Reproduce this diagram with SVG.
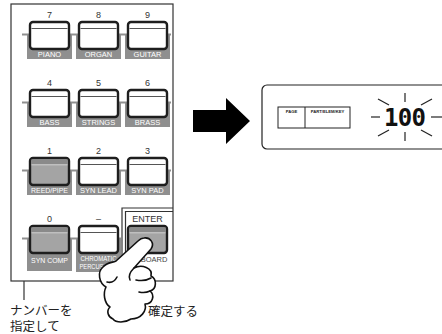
<svg xmlns="http://www.w3.org/2000/svg" width="442" height="334" viewBox="0 0 442 334">
  <defs>
    <style>
      .num { font-family: "Liberation Sans", Arial, sans-serif; font-size: 9px; fill: #333; text-anchor: middle; }
      .lbl { font-family: "Liberation Sans", Arial, sans-serif; font-size: 7.5px; fill: #fff; text-anchor: middle; }
      .sm { font-size: 6.8px; }
      .bed { fill: #8f8f8f; }
      .key { fill: #fff; stroke: #1e1e1e; stroke-width: 2.4; }
      .key-on { fill: #a4a4a4; stroke: #1e1e1e; stroke-width: 2.4; }
      .stripe { stroke: #555; stroke-width: 1.2; }
      .frame { fill: none; stroke: #333; stroke-width: 1.2; }
      .jp { font-family: "Liberation Sans", "Noto Sans CJK JP", sans-serif; font-size: 12.5px; fill: #222; }
      .ray { stroke: #222; stroke-width: 1.2; }
      .tiny { font-family: "Liberation Sans", Arial, sans-serif; font-size: 4.2px; font-weight: bold; fill: #222; text-anchor: middle; }
    </style>
  </defs>

  <!-- front panel frame -->
  <g id="panel">
    <rect class="frame" x="11" y="4" width="162" height="277"/>
    <line x1="24" y1="281" x2="24" y2="300" stroke="#333" stroke-width="1.2"/>
    <!-- ENTER enclosure, double line on left and top -->
    <path class="frame" d="M122,281 V208 H173"/>
    <path class="frame" d="M125.5,281 V211.5 H173"/>
  </g>

  <!-- rails under each key row -->
  <g id="rails" fill="#8f8f8f">
    <rect x="22" y="33.5" width="149" height="2"/>
    <rect x="22" y="101.5" width="149" height="2"/>
    <rect x="22" y="169.5" width="149" height="2"/>
    <rect x="22" y="237.5" width="99" height="2"/>
  </g>

  <!-- row 7 8 9 -->
  <g id="key-7">
    <text class="num" x="49.5" y="18">7</text>
    <rect class="bed" x="27" y="34" width="45" height="25"/>
    <rect class="key" x="30" y="22" width="39" height="27" rx="3"/>
    <line class="stripe" x1="31.5" y1="28.5" x2="67.5" y2="28.5"/>
    <text class="lbl" x="49.5" y="57">PIANO</text>
  </g>
  <g id="key-8">
    <text class="num" x="98.5" y="18">8</text>
    <rect class="bed" x="76" y="34" width="45" height="25"/>
    <rect class="key" x="79" y="22" width="39" height="27" rx="3"/>
    <line class="stripe" x1="80.5" y1="28.5" x2="116.5" y2="28.5"/>
    <text class="lbl" x="98.5" y="57">ORGAN</text>
  </g>
  <g id="key-9">
    <text class="num" x="147.5" y="18">9</text>
    <rect class="bed" x="125" y="34" width="45" height="25"/>
    <rect class="key" x="128" y="22" width="39" height="27" rx="3"/>
    <line class="stripe" x1="129.5" y1="28.5" x2="165.5" y2="28.5"/>
    <text class="lbl" x="147.5" y="57">GUITAR</text>
  </g>

  <!-- row 4 5 6 -->
  <g id="key-4">
    <text class="num" x="49.5" y="86">4</text>
    <rect class="bed" x="27" y="102" width="45" height="25"/>
    <rect class="key" x="30" y="90" width="39" height="27" rx="3"/>
    <line class="stripe" x1="31.5" y1="96.5" x2="67.5" y2="96.5"/>
    <text class="lbl" x="49.5" y="125">BASS</text>
  </g>
  <g id="key-5">
    <text class="num" x="98.5" y="86">5</text>
    <rect class="bed" x="76" y="102" width="45" height="25"/>
    <rect class="key" x="79" y="90" width="39" height="27" rx="3"/>
    <line class="stripe" x1="80.5" y1="96.5" x2="116.5" y2="96.5"/>
    <text class="lbl" x="98.5" y="125">STRINGS</text>
  </g>
  <g id="key-6">
    <text class="num" x="147.5" y="86">6</text>
    <rect class="bed" x="125" y="102" width="45" height="25"/>
    <rect class="key" x="128" y="90" width="39" height="27" rx="3"/>
    <line class="stripe" x1="129.5" y1="96.5" x2="165.5" y2="96.5"/>
    <text class="lbl" x="147.5" y="125">BRASS</text>
  </g>

  <!-- row 1 2 3 -->
  <g id="key-1">
    <text class="num" x="49.5" y="154">1</text>
    <rect class="bed" x="27" y="170" width="45" height="25"/>
    <rect class="key-on" x="30" y="158" width="39" height="27" rx="3"/>
    <rect x="31.3" y="159.3" width="36.4" height="5" fill="#8a8a8a"/>
    <line x1="31.5" y1="164.8" x2="67.5" y2="164.8" stroke="#cfcfcf" stroke-width="1"/>
    <text class="lbl sm" x="49.5" y="193" textLength="37" lengthAdjust="spacingAndGlyphs">REED/PIPE</text>
  </g>
  <g id="key-2">
    <text class="num" x="98.5" y="154">2</text>
    <rect class="bed" x="76" y="170" width="45" height="25"/>
    <rect class="key" x="79" y="158" width="39" height="27" rx="3"/>
    <line class="stripe" x1="80.5" y1="164.5" x2="116.5" y2="164.5"/>
    <text class="lbl" x="98.5" y="193" textLength="37" lengthAdjust="spacingAndGlyphs">SYN LEAD</text>
  </g>
  <g id="key-3">
    <text class="num" x="147.5" y="154">3</text>
    <rect class="bed" x="125" y="170" width="45" height="25"/>
    <rect class="key" x="128" y="158" width="39" height="27" rx="3"/>
    <line class="stripe" x1="129.5" y1="164.5" x2="165.5" y2="164.5"/>
    <text class="lbl" x="147.5" y="193">SYN PAD</text>
  </g>

  <!-- row 0 – ENTER -->
  <g id="key-0">
    <text class="num" x="49.5" y="222">0</text>
    <rect class="bed" x="27" y="238" width="45" height="33"/>
    <rect class="key-on" x="30" y="226" width="39" height="27" rx="3"/>
    <rect x="31.3" y="227.3" width="36.4" height="5" fill="#8a8a8a"/>
    <line x1="31.5" y1="232.8" x2="67.5" y2="232.8" stroke="#cfcfcf" stroke-width="1"/>
    <text class="lbl" x="49.5" y="263" textLength="37" lengthAdjust="spacingAndGlyphs">SYN COMP</text>
  </g>
  <g id="key-minus">
    <text class="num" x="98.5" y="222">–</text>
    <rect class="bed" x="76" y="238" width="45" height="34"/>
    <rect class="key" x="79" y="226" width="39" height="27" rx="3"/>
    <line class="stripe" x1="80.5" y1="232.5" x2="116.5" y2="232.5"/>
    <text class="lbl sm" x="98.5" y="261" textLength="36" lengthAdjust="spacingAndGlyphs">CHROMATIC</text>
    <text class="lbl sm" x="98.5" y="268.5" textLength="38" lengthAdjust="spacingAndGlyphs">PERCUSSION</text>
  </g>
  <g id="key-enter">
    <text class="num" x="147.5" y="222">ENTER</text>
    <rect class="key-on" x="128" y="226" width="39" height="27" rx="3"/>
    <rect x="129.3" y="227.3" width="36.4" height="5" fill="#8a8a8a"/>
    <line x1="129.5" y1="232.8" x2="165.5" y2="232.8" stroke="#cfcfcf" stroke-width="1"/>
    <text class="lbl" x="154" y="262" style="fill:#444">BOARD</text>
  </g>

  <!-- pointing hand pressing ENTER -->
  <g id="hand" fill="#fff" stroke="#111" stroke-width="1.6" stroke-linejoin="round" stroke-linecap="round">
    <path d="M144,238 C150,237 155,243 151,249 L134,268 C142,264 153,268 151,276 C157,279 157,289 150,291 C155,295 153,304 145,304 C147,311 141,319 131,319 C125,323 116,323 113,319 C108,317 106,311 110,307 C104,303 103,293 106,287 C99,283 97,272 103,267 C107,262 112,263 116,261 L138,241 C140,239 142,238 144,238 Z"/>
    <path fill="none" d="M134,268 C130,272 128,276 130,280"/>
    <path fill="none" d="M136,280 C141,281 146,281 151,278"/>
    <path fill="none" d="M139,292 C143,293 146,293 150,291"/>
    <path fill="none" d="M107,282 C111,283 115,281 117,277"/>
  </g>

  <!-- captions -->
  <g id="captions">
    <text class="jp" x="10" y="315">ナンバーを</text>
    <text class="jp" x="10" y="331">指定して</text>
    <text class="jp" x="148" y="316">確定する</text>
  </g>

  <!-- arrow -->
  <g id="connectors">
    <polygon points="193,110 226,110 226,98 250,121 226,144 226,132 193,132" fill="#000"/>
  </g>

  <!-- display -->
  <g id="display">
    <rect x="262" y="85" width="195" height="64" rx="5" fill="#fff" stroke="#222" stroke-width="1.2"/>
    <rect x="278" y="107" width="72" height="21" fill="none" stroke="#222" stroke-width="1"/>
    <line x1="305" y1="107" x2="305" y2="128" stroke="#222" stroke-width="1"/>
    <text class="tiny" x="291.5" y="112.5">PAGE</text>
    <text class="tiny" x="327.5" y="112.5">PART/ELEM/KEY</text>
    <text x="405" y="126" font-family="DejaVu Sans Mono, monospace" font-size="24" font-weight="bold" text-anchor="middle" fill="#111" textLength="42">100</text>
    <line class="ray" x1="371" y1="117" x2="380" y2="117"/>
    <line class="ray" x1="431" y1="117" x2="442" y2="117"/>
    <line class="ray" x1="405" y1="93" x2="405" y2="102"/>
    <line class="ray" x1="378" y1="99" x2="389" y2="105"/>
    <line class="ray" x1="421" y1="105" x2="432" y2="99"/>
    <line class="ray" x1="378" y1="136" x2="389" y2="130"/>
    <line class="ray" x1="405" y1="132" x2="405" y2="141"/>
    <line class="ray" x1="421" y1="130" x2="432" y2="136"/>
  </g>
</svg>
